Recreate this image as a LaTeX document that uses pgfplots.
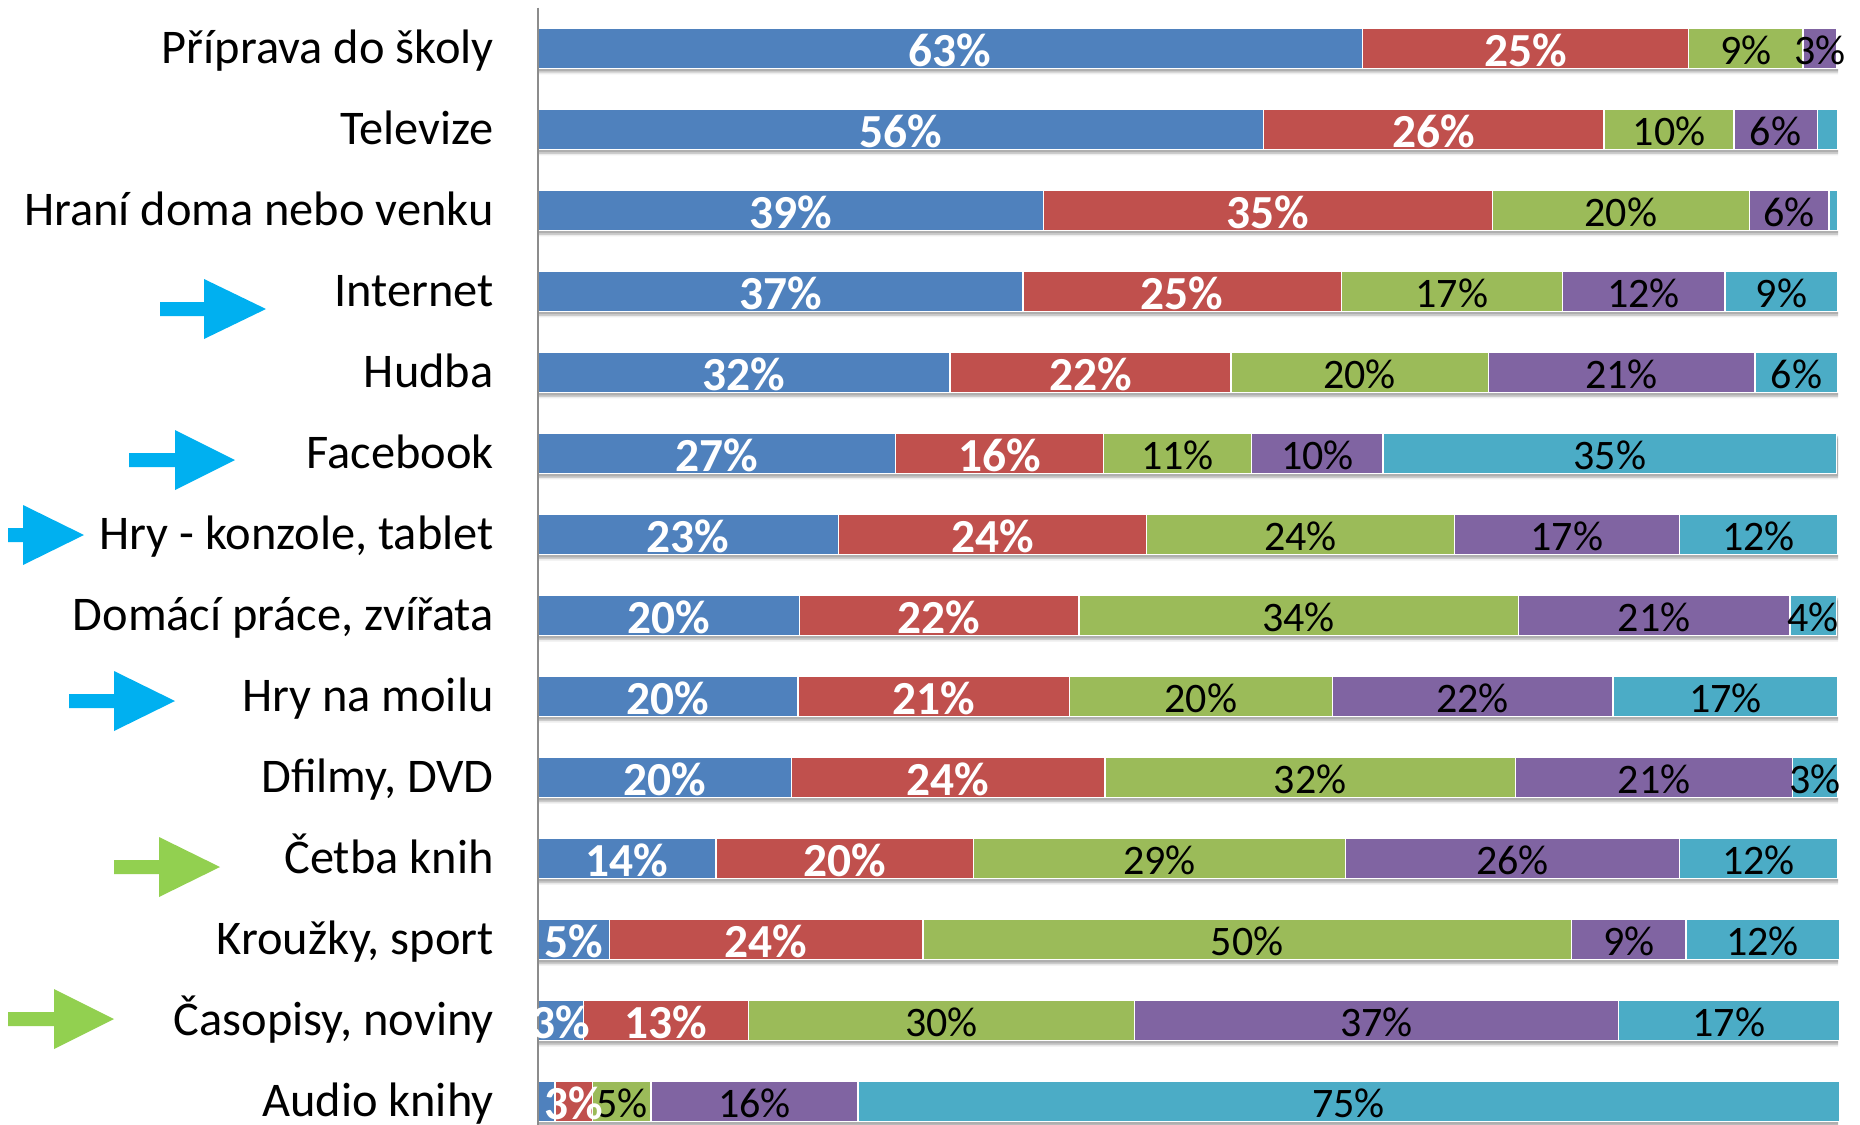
\documentclass[border=0pt]{standalone}
\usepackage{pgfplots}
\usepackage{pgfplotstable}
\usepackage{fontspec}
\setmainfont{Carlito}
\pgfplotsset{compat=1.18}
\definecolor{s1}{HTML}{4F81BD}
\definecolor{s2}{HTML}{C0504D}
\definecolor{s3}{HTML}{9BBB59}
\definecolor{s4}{HTML}{8064A2}
\definecolor{s5}{HTML}{4BACC6}
\definecolor{arb}{HTML}{00B0F0}
\definecolor{arg}{HTML}{92D050}
\newcommand\pc{\%}
\pgfplotstableread{
y a la
0 63.4 63\pc
1 55.8 56\pc
2 38.9 39\pc
3 37.3 37\pc
4 31.7 32\pc
5 27.5 27\pc
6 23.1 23\pc
7 20.1 20\pc
8 20.0 20\pc
9 19.5 20\pc
10 13.7 14\pc
11 5.5 5\pc
12 3.5 3\pc
13 1.3 {}
}\tA
\pgfplotstableread{
y a la
0 25.1 25\pc
1 26.2 26\pc
2 34.5 35\pc
3 24.5 25\pc
4 21.6 22\pc
5 16.0 16\pc
6 23.7 24\pc
7 21.5 22\pc
8 20.9 21\pc
9 24.1 24\pc
10 19.8 20\pc
11 24.1 24\pc
12 12.7 13\pc
13 2.9 3\pc
}\tB
\pgfplotstableread{
y a la
0 8.8 9\pc
1 10.0 10\pc
2 19.8 20\pc
3 17.0 17\pc
4 19.8 20\pc
5 11.4 11\pc
6 23.7 24\pc
7 33.8 34\pc
8 20.2 20\pc
9 31.6 32\pc
10 28.6 29\pc
11 49.9 50\pc
12 29.7 30\pc
13 4.5 5\pc
}\tC
\pgfplotstableread{
y a la
0 2.6 3\pc
1 6.4 6\pc
2 6.1 6\pc
3 12.5 12\pc
4 20.5 21\pc
5 10.1 10\pc
6 17.3 17\pc
7 20.9 21\pc
8 21.6 22\pc
9 21.3 21\pc
10 25.7 26\pc
11 8.8 9\pc
12 37.2 37\pc
13 15.9 16\pc
}\tD
\pgfplotstableread{
y a la
0 0.1 {}
1 1.6 {}
2 0.7 {}
3 8.7 9\pc
4 6.4 6\pc
5 34.9 35\pc
6 12.2 12\pc
7 3.6 4\pc
8 17.3 17\pc
9 3.5 3\pc
10 12.2 12\pc
11 11.8 12\pc
12 17.0 17\pc
13 75.5 75\pc
}\tE
\pgfplotstableread{
y a
0 100
1 100
2 100
3 100
4 100
5 100
6 100
7 100
8 100
9 100
10 100
11 100
12 100
13 100
}\tS
\pgfplotsset{
  base/.style={
    at={(269pt,-3.8pt)}, anchor=north west,
    scale only axis, width=650pt, height=558.7pt,
    xmin=0, xmax=100, ymin=-0.5, ymax=13.29, y dir=reverse,
    clip=false,
    hide x axis,
    axis y line*=left, axis line style={draw=black!45, line width=0.8pt, -},
    ytick={0,...,13}, major tick length=0pt,
  }
}
\newcommand\seg[3]{%
  \addplot+[xbar stacked, fill=#1, draw=white, line width=0.7pt, mark=none,
    nodes near coords={\pgfplotspointmeta},
    every node near coord/.append style={anchor=center, inner sep=0pt,
      yshift=-1.1pt, #3}]
    table[x=a, y=y, meta=la] {#2};
}
\begin{document}
\begin{tikzpicture}[x=0.5pt,y=-0.5pt]
\useasboundingbox (0,0) rectangle (1860,1125);
% shadow layers
\begin{axis}[base, hide y axis, xbar, bar width=20.2pt, bar shift=-1.4pt]
\addplot[fill=black, fill opacity=0.14, draw=none] table[x=a,y=y] {\tS};
\end{axis}
\begin{axis}[base, hide y axis, xbar, bar width=20.2pt, bar shift=-2.2pt]
\addplot[fill=black, fill opacity=0.14, draw=none] table[x=a,y=y] {\tS};
\end{axis}
\begin{axis}[base, hide y axis, xbar, bar width=20.2pt, bar shift=-3pt]
\addplot[fill=black, fill opacity=0.07, draw=none] table[x=a,y=y] {\tS};
\end{axis}
\begin{axis}[base, axis on top,
  xbar stacked, bar width=20.2pt,
  point meta=explicit symbolic,
  yticklabels={Příprava do školy,Televize,Hraní doma nebo venku,Internet,Hudba,Facebook,{Hry - konzole, tablet},{Domácí práce, zvířata},Hry na moilu,{Dfilmy, DVD},Četba knih,{Kroužky, sport},{Časopisy, noviny},Audio knihy},
  yticklabel style={font=\fontsize{24.2}{26}\selectfont, xshift=-22pt, inner sep=0pt, anchor=east, text height=20.4pt, text depth=5pt},
]
\seg{s1}{\tA}{text=white, font=\fontsize{23.7}{26}\selectfont\bfseries}
\seg{s2}{\tB}{text=white, font=\fontsize{23.7}{26}\selectfont\bfseries}
\seg{s3}{\tC}{text=black, font=\fontsize{21}{26}\selectfont}
\seg{s4}{\tD}{text=black, font=\fontsize{21}{26}\selectfont}
\seg{s5}{\tE}{text=black, font=\fontsize{21}{26}\selectfont}
\end{axis}
% arrows: colour, x start, y centre, head start, tip
\newcommand\blockarrow[5]{\fill[#1] (#2,#3-7) -- (#4,#3-7) -- (#4,#3-30) -- (#5,#3) -- (#4,#3+30) -- (#4,#3+7) -- (#2,#3+7) -- cycle;}
\blockarrow{arb}{160}{309}{204}{266}
\blockarrow{arb}{129}{460}{175}{235}
\blockarrow{arb}{8}{535}{23}{84}
\blockarrow{arb}{69}{701}{114}{175}
\blockarrow{arg}{114}{867}{159}{220}
\blockarrow{arg}{8}{1019}{54}{114}
\end{tikzpicture}
\end{document}
